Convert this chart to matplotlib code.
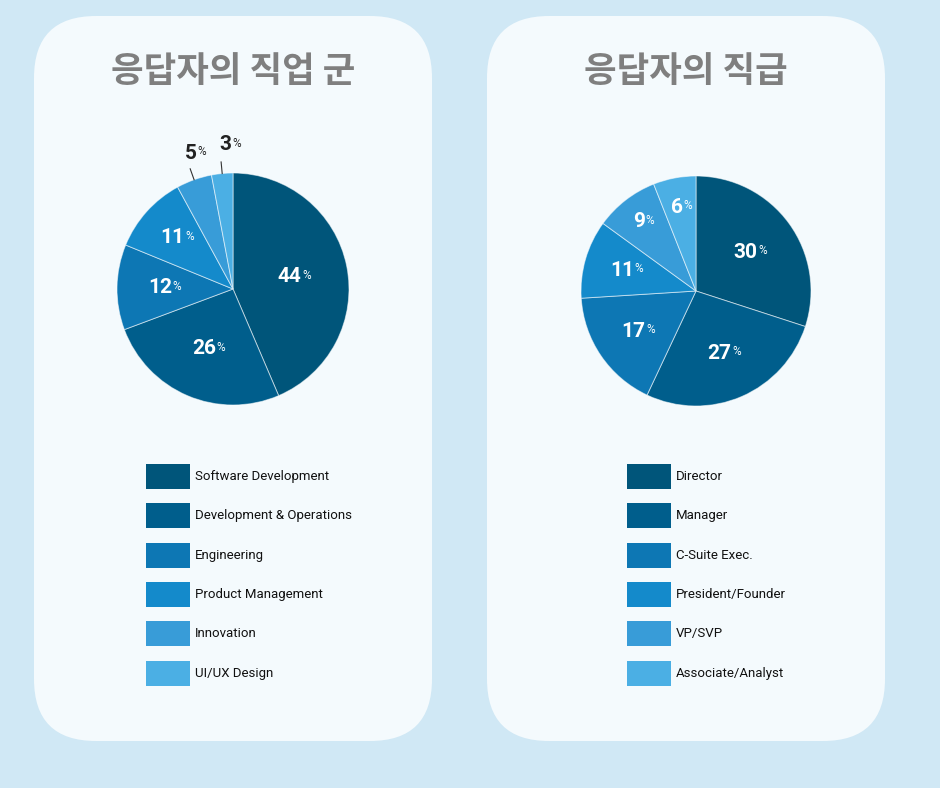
import matplotlib
matplotlib.use("Agg")
import numpy as np
from matplotlib import pyplot as plt
from matplotlib.patches import FancyBboxPatch, Rectangle

# data
job_labels = ["Software Development", "Development & Operations", "Engineering",
              "Product Management", "Innovation", "UI/UX Design"]
job_values = [44, 26, 12, 11, 5, 3]
level_labels = ["Director", "Manager", "C-Suite Exec.",
                "President/Founder", "VP/SVP", "Associate/Analyst"]
level_values = [30, 27, 17, 11, 9, 6]
titles = ["응답자의 직업 군", "응답자의 직급"]

palette = ["#00557a", "#005e8c", "#0d77b4", "#148acb", "#389cd8", "#4bafe4"]
bg = "#d0e8f5"
card = "#f4fafd"
W, H = 940, 788

narrow = ["Roboto", "DejaVu Sans"]

fig = plt.figure(figsize=(W / 100, H / 100), dpi=100, facecolor=bg)
base = fig.add_axes([0, 0, 1, 1])
base.set_xlim(0, W)
base.set_ylim(H, 0)
base.axis("off")

def px_rect(x, y, w, h):
    return [x / W, 1 - (y + h) / H, w / W, h / H]

panels = [
    dict(x0=34, cx=233, cy=289, r=116, lx=146, labels=job_labels, values=job_values,
         dist=[0.53, 0.56, 0.6, 0.66, 1.24, 1.25], inside=[1, 1, 1, 1, 0, 0]),
    dict(x0=487, cx=696, cy=291, r=115, lx=627, labels=level_labels, values=level_values,
         dist=[0.57, 0.59, 0.62, 0.64, 0.76, 0.74], inside=[1, 1, 1, 1, 1, 1]),
]

for p, title in zip(panels, titles):
    box = FancyBboxPatch((p["x0"], 16), 398, 725,
                         boxstyle="round,pad=0,rounding_size=62",
                         facecolor=card, edgecolor="none")
    base.add_patch(box)
    base.text(p["x0"] + 199, 71, title, ha="center", va="center",
              fontsize=25.5, fontweight="bold", color="#7f7f7f",
              family=["Noto Sans CJK KR", "DejaVu Sans"])

    ax = fig.add_axes(px_rect(p["cx"] - p["r"], p["cy"] - p["r"], 2 * p["r"], 2 * p["r"]))
    wedges, _ = ax.pie(p["values"], colors=palette, startangle=90, counterclock=False,
                       wedgeprops=dict(edgecolor=(1, 1, 1, 0.55), linewidth=0.7))
    ax.set_xlim(-1, 1)
    ax.set_ylim(-1, 1)
    ax.set_aspect("equal")

    for w, v, d, ins in zip(wedges, p["values"], p["dist"], p["inside"]):
        ang = np.deg2rad((w.theta1 + w.theta2) / 2)
        x, y = np.cos(ang), np.sin(ang)
        col = "white" if ins else "#222222"
        dx = -0.03 if ins else 0.05
        if not ins:
            ax.plot([1.0 * x, 1.1 * x], [1.0 * y, 1.1 * y], color="#333333", lw=0.8,
                    clip_on=False)
        t = ax.text(d * x + dx, d * y, str(v), ha="center", va="center", fontsize=15,
                    fontweight="bold", color=col, family=narrow)
        ax.annotate("%", xy=(1, 1), xycoords=t, xytext=(0.5, -1), textcoords="offset points",
                    ha="left", va="top", fontsize=8.5, color=col, family=narrow)

    # legend rows
    for i, (lab, c) in enumerate(zip(p["labels"], palette)):
        top = 464 + 39.3 * i
        base.add_patch(Rectangle((p["lx"], top), 44, 25, facecolor=c, edgecolor="none"))
        base.text(p["lx"] + 49, top + 12.5, lab, ha="left", va="center",
                  fontsize=9.5, color="#111111", family=narrow)

fig.savefig("out.png", dpi=100, facecolor=bg)
